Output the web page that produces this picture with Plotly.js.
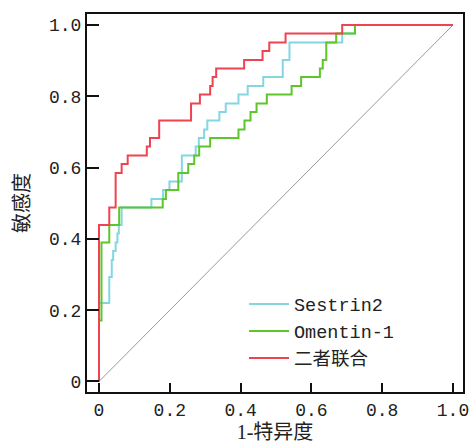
<!DOCTYPE html>
<html>
<head>
<meta charset="utf-8">
<script src="https://cdn.plot.ly/plotly-3.0.1.min.js"></script>
<style>html,body{margin:0;padding:0;background:#fff;}#chart{width:469px;height:443px;}</style>
</head>
<body>
<div id="chart"></div>
<script>
// ROC curves: false positive rate (1-特异度) and true positive rate (敏感度)
const seriesNames = ["Sestrin2", "Omentin-1", "二者联合"];

const sestrinFPR = [0, 0, 0.029, 0.036, 0.040, 0.047, 0.052, 0.056, 0.064, 0.148, 0.181, 0.199, 0.234, 0.273, 0.282, 0.297, 0.306, 0.340, 0.358, 0.394, 0.420, 0.464, 0.519, 0.538, 0.687, 0.723, 1];
const sestrinTPR = [0, 0.220, 0.293, 0.341, 0.366, 0.390, 0.415, 0.439, 0.488, 0.512, 0.537, 0.561, 0.634, 0.659, 0.683, 0.707, 0.732, 0.756, 0.780, 0.805, 0.829, 0.854, 0.902, 0.951, 0.976, 1, 1];

const omentinFPR = [0, 0, 0.007, 0.029, 0.057, 0.180, 0.189, 0.224, 0.252, 0.269, 0.283, 0.314, 0.394, 0.411, 0.428, 0.445, 0.474, 0.544, 0.571, 0.624, 0.632, 0.642, 0.670, 0.723, 1];
const omentinTPR = [0, 0.171, 0.390, 0.439, 0.488, 0.512, 0.537, 0.585, 0.610, 0.634, 0.659, 0.683, 0.707, 0.732, 0.756, 0.780, 0.805, 0.829, 0.854, 0.878, 0.902, 0.951, 0.976, 1, 1];

const combinedFPR = [0, 0, 0.029, 0.047, 0.064, 0.081, 0.135, 0.144, 0.170, 0.260, 0.285, 0.314, 0.321, 0.331, 0.410, 0.462, 0.481, 0.527, 0.687, 1];
const combinedTPR = [0, 0.439, 0.488, 0.585, 0.610, 0.634, 0.659, 0.683, 0.732, 0.780, 0.805, 0.829, 0.854, 0.878, 0.902, 0.927, 0.951, 0.976, 1, 1];

const refX = [0, 1];
const refY = [0, 1];

const tickVals = [0, 0.2, 0.4, 0.6, 0.8, 1.0];
const tickText = ["0", "0.2", "0.4", "0.6", "0.8", "1.0"];

const colors = ["#84d6e2", "#5cc62a", "#ee4350"];

const traces = [
  {x: refX, y: refY, mode: "lines", line: {color: "#9a9a9a", width: 1}, showlegend: false, hoverinfo: "skip"},
  {x: sestrinFPR, y: sestrinTPR, name: seriesNames[0], mode: "lines", line: {color: colors[0], width: 2, shape: "hv"}},
  {x: omentinFPR, y: omentinTPR, name: seriesNames[1], mode: "lines", line: {color: colors[1], width: 2, shape: "hv"}},
  {x: combinedFPR, y: combinedTPR, name: seriesNames[2], mode: "lines", line: {color: colors[2], width: 2, shape: "hv"}}
];

const tickFont = {family: "Liberation Mono, Noto Sans CJK SC", size: 18, color: "#222"};
const titleFont = {family: "Liberation Serif, Noto Sans CJK SC", size: 20, color: "#222"};

const layout = {
  width: 469, height: 443,
  margin: {l: 87, r: 6, t: 14, b: 51, pad: 0},
  paper_bgcolor: "#fff", plot_bgcolor: "#fff",
  showlegend: true,
  xaxis: {
    range: [-0.0339, 1.0282],
    tickvals: tickVals, ticktext: tickText,
    ticks: "inside", ticklen: 9, tickwidth: 2, tickcolor: "#111",
    showline: true, linecolor: "#111", linewidth: 2, mirror: true,
    showgrid: false, zeroline: false,
    tickfont: tickFont, ticklabeloverflow: "allow",
    title: {text: "1-特异度", font: titleFont, standoff: 11}
  },
  yaxis: {
    range: [-0.0295, 1.0309],
    tickvals: tickVals, ticktext: tickText,
    ticks: "inside", ticklen: 12, tickwidth: 2, tickcolor: "#111",
    showline: true, linecolor: "#111", linewidth: 2, mirror: true,
    showgrid: false, zeroline: false,
    tickfont: tickFont, ticklabeloverflow: "allow",
    title: {text: "敏感度", font: titleFont, standoff: 14}
  },
  legend: {
    x: 0.4176, xanchor: "left", y: 0.282, yanchor: "top",
    bgcolor: "rgba(0,0,0,0)", borderwidth: 0,
    font: {family: "Liberation Mono, Noto Sans CJK SC", size: 18.5, color: "#222"},
    itemwidth: 40
  }
};

Plotly.newPlot("chart", traces, layout, {displayModeBar: false, staticPlot: true});
</script>
</body>
</html>
